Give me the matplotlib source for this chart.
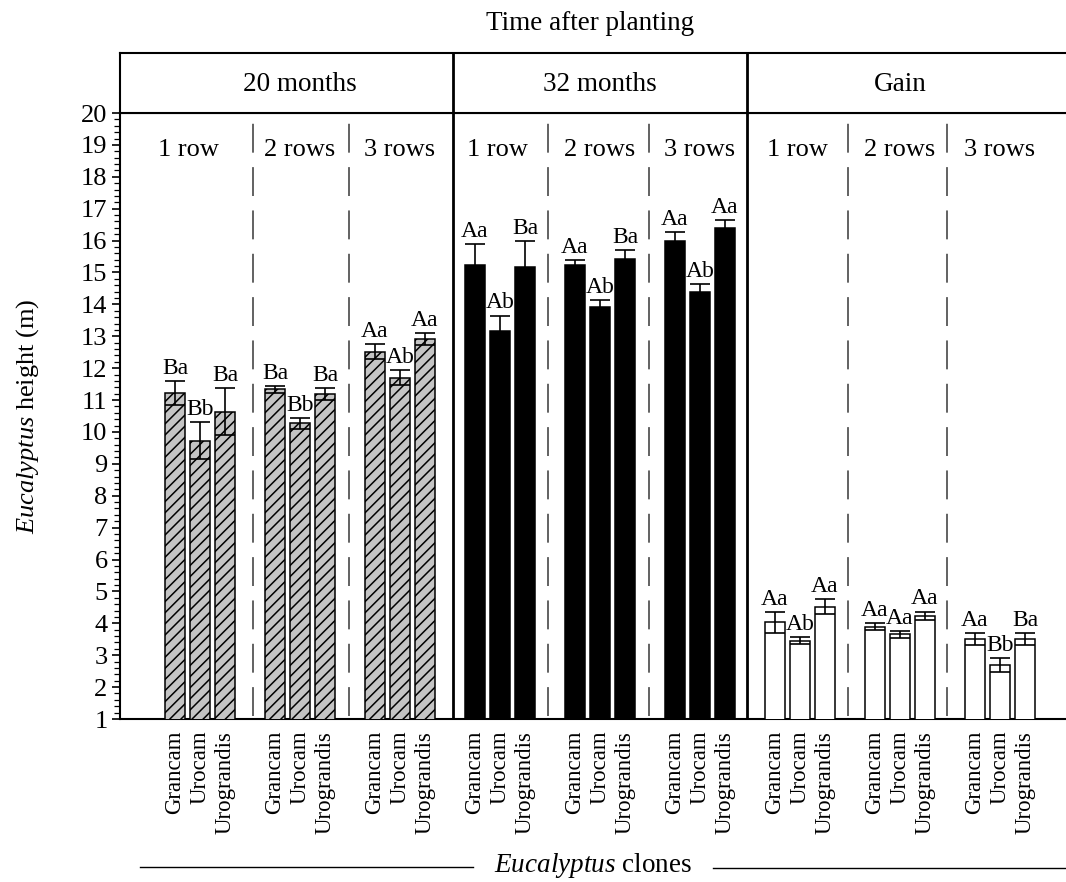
import matplotlib
matplotlib.use("Agg")
import matplotlib.pyplot as plt
from matplotlib.lines import Line2D
import numpy as np

plt.rcParams['font.family'] = ['Liberation Serif', 'DejaVu Serif']
plt.rcParams['mathtext.fontset'] = 'custom'
plt.rcParams['mathtext.rm'] = 'Liberation Serif'
plt.rcParams['mathtext.it'] = 'Liberation Serif:italic'
plt.rcParams['hatch.linewidth'] = 1.1

# ---------------- data ----------------
clones = ['Grancam', 'Urocam', 'Urograndis']
rows = ['1 row', '2 rows', '3 rows']
periods = ['20 months', '32 months', 'Gain']

height_20m = [11.21, 9.73, 10.64, 11.34, 10.27, 11.19, 12.52, 11.70, 12.91]
err_20m = [0.38, 0.57, 0.73, 0.11, 0.18, 0.18, 0.23, 0.24, 0.18]
letters_20m = ['Ba', 'Bb', 'Ba', 'Ba', 'Bb', 'Ba', 'Aa', 'Ab', 'Aa']

height_32m = [15.24, 13.17, 15.16, 15.24, 13.92, 15.41, 15.99, 14.38, 16.39]
err_32m = [0.65, 0.48, 0.82, 0.16, 0.22, 0.30, 0.27, 0.25, 0.24]
letters_32m = ['Aa', 'Ab', 'Ba', 'Aa', 'Ab', 'Ba', 'Aa', 'Ab', 'Aa']

height_gain = [4.03, 3.46, 4.52, 3.90, 3.65, 4.24, 3.51, 2.69, 3.51]
err_gain = [0.32, 0.11, 0.24, 0.12, 0.12, 0.13, 0.18, 0.21, 0.19]
letters_gain = ['Aa', 'Ab', 'Aa', 'Aa', 'Aa', 'Aa', 'Aa', 'Bb', 'Ba']

y_ticks = list(range(1, 21))

# ---------------- figure ----------------
W, H = 1066, 882
fig = plt.figure(figsize=(W / 100, H / 100), dpi=100)

ax_l, ax_r, ax_t, ax_b = 120, 1066, 113, 719
ax = fig.add_axes([ax_l / W, (H - ax_b) / H, (ax_r - ax_l) / W, (ax_b - ax_t) / H])
hx = fig.add_axes([ax_l / W, (H - ax_t) / H, (ax_r - ax_l) / W, (ax_t - 53) / H])

xmin, xmax = -0.8, 8.66
ax.set_xlim(xmin, xmax)
hx.set_xlim(xmin, xmax)
ax.set_ylim(1, 20)

styles = [
    dict(color='#c4c4c4', hatch='///', edgecolor='black'),
    dict(color='black', hatch=None, edgecolor='black'),
    dict(color='white', hatch=None, edgecolor='black'),
]
datasets = [(height_20m, err_20m, letters_20m),
            (height_32m, err_32m, letters_32m),
            (height_gain, err_gain, letters_gain)]

offsets = [-0.25, 0.0, 0.25]
bw = 0.195
tick_pos, tick_lab = [], []
for p, (vals, errs, labs) in enumerate(datasets):
    st = styles[p]
    for r in range(3):
        g = p * 3 + r
        for c in range(3):
            i = r * 3 + c
            x = g + offsets[c]
            ax.bar(x, vals[i], width=bw, bottom=0, color=st['color'],
                   edgecolor=st['edgecolor'], hatch=st['hatch'], linewidth=1.1, zorder=3)
            ax.errorbar(x, vals[i], yerr=errs[i], fmt='none', ecolor='black',
                        elinewidth=1.2, capsize=7, capthick=1.2, zorder=4)
            ax.annotate(labs[i], (x, vals[i] + errs[i]), xytext=(0, 1.5),
                        textcoords='offset points', ha='center', va='bottom',
                        fontsize=17, zorder=5)
            tick_pos.append(x)
            tick_lab.append(clones[c])

# row labels
for p in range(3):
    for r in range(3):
        g = p * 3 + r
        xoff = -0.12 if (r == 0 and p == 0) else (-0.03 if r == 0 else 0.0)
        ax.text(g + xoff, 18.84, rows[r], ha='center', va='center', fontsize=19)

# dashed separators
for xd in [0.53, 1.49, 3.48, 4.49, 6.48, 7.47]:
    ax.plot([xd, xd], [1.1, 19.75], color='#555555', lw=1.3,
            dashes=(16, 8), zorder=2)

# panel dividers
for xd in [2.53, 5.47]:
    ax.axvline(xd, color='black', lw=2.0, zorder=6)
    hx.axvline(xd, color='black', lw=2.0)

# axes styling
ax.set_yticks(y_ticks)
ax.set_yticklabels([str(t) for t in y_ticks], fontsize=19)
ax.set_yticks(np.arange(1, 20.01, 0.2), minor=True)
ax.tick_params(axis='y', which='major', direction='out', length=6, width=1.2, pad=3)
ax.tick_params(axis='y', which='minor', direction='out', length=4, width=0.9)
ax.set_xticks(tick_pos)
ax.set_xticklabels(tick_lab, rotation=90, fontsize=16.5)
ax.tick_params(axis='x', length=0, pad=8.5)
ax.spines['right'].set_visible(False)
for s in ['left', 'bottom', 'top']:
    ax.spines[s].set_linewidth(1.5)

ax.set_ylabel(r'$\mathit{Eucalyptus}$ height (m)', fontsize=19)
ax.yaxis.set_label_coords(-0.083, 0.5)

# header
hx.set_ylim(0, 1)
hx.set_xticks([])
hx.set_yticks([])
hx.spines['right'].set_visible(False)
for s in ['left', 'bottom', 'top']:
    hx.spines[s].set_linewidth(1.5)
for p in range(3):
    hx.text(p * 3 + 1, 0.47, periods[p], ha='center', va='center', fontsize=19.5)

fig.text(590 / W, 1 - 23 / H, 'Time after planting', ha='center', va='center', fontsize=19.5)

# bottom title with lines
fig.text(593 / W, 1 - 866 / H, r'$\mathit{Eucalyptus}$ clones', ha='center', va='center', fontsize=19.5)
fig.add_artist(Line2D([140 / W, 473 / W], [1 - 867 / H, 1 - 867 / H], color='black', lw=1.0,
                      transform=fig.transFigure))
fig.add_artist(Line2D([713 / W, 1066 / W], [1 - 868 / H, 1 - 868 / H], color='black', lw=1.0,
                      transform=fig.transFigure))

fig.savefig('out.png', dpi=100)
